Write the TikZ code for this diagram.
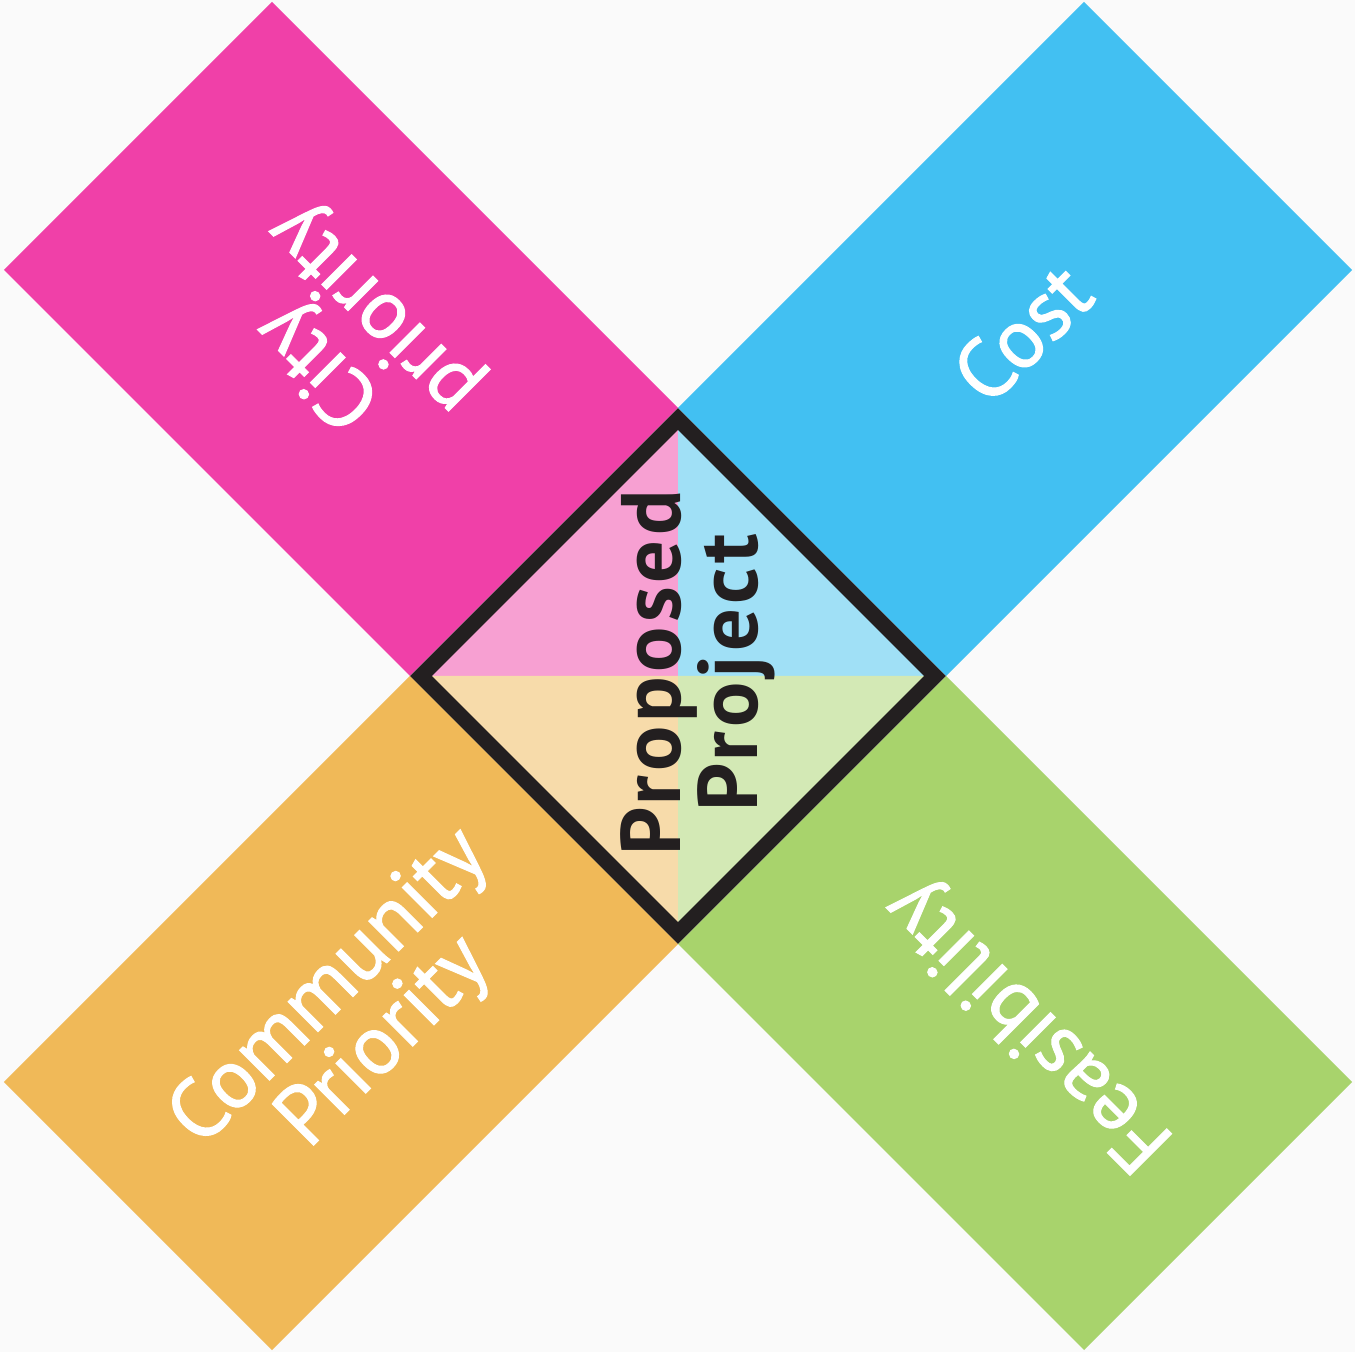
\documentclass[tikz,border=0pt]{standalone}
\usepackage{fontspec}
\setmainfont{PT Sans}
\newfontfamily\lblfont{PT Sans}[FakeBold=1.2]
\newfontfamily\midfont{PT Sans}[LetterSpace=5]
\definecolor{bg}{HTML}{FAFAFA}
\definecolor{cpink}{HTML}{F040A8}
\definecolor{cblue}{HTML}{42C0F2}
\definecolor{corange}{HTML}{F0B958}
\definecolor{cgreen}{HTML}{A8D36C}
\definecolor{lpink}{HTML}{F7A0D2}
\definecolor{lblue}{HTML}{A0E0F6}
\definecolor{lorange}{HTML}{F7DBAA}
\definecolor{lgreen}{HTML}{D3E9B5}
\definecolor{cdark}{HTML}{231F20}
\begin{document}
\begin{tikzpicture}[x=0.01cm,y=0.01cm,
  lbl/.style={text=white,align=center,inner sep=0pt,font=\lblfont\fontsize{24}{22}\selectfont},
  mid/.style={text=cdark,align=center,inner sep=0pt,font=\midfont\bfseries\fontsize{24}{22}\selectfont}]
  \useasboundingbox (-678,-676) rectangle (677,676);
  \fill[bg] (-678,-676) rectangle (677,676);

  % the four arms
  \foreach \sx/\sy/\col in {-1/1/cpink, 1/1/cblue, -1/-1/corange, 1/-1/cgreen}{
    \fill[\col] (\sx*268,0) -- (0,\sy*268) -- (\sx*406,\sy*674) -- (\sx*674,\sy*406) -- cycle;
  }

  % centre diamond
  \foreach \sx/\sy/\col in {-1/1/lpink, 1/1/lblue, -1/-1/lorange, 1/-1/lgreen}{
    \fill[\col] (0,0) -- (\sx*257,0) -- (0,\sy*257) -- cycle;
  }
  \draw[cdark,line width=4.4pt,line join=miter] (0,257) -- (257,0) -- (0,-257) -- (-257,0) -- cycle;

  \node[lbl,rotate=135] (city) at (-330,340) {City\\priority};
  \node[lbl,rotate=45] (cost) at (344,343) {Cost};
  \node[lbl,rotate=45] (community) at (-320,-340) {Community\\Priority};
  \node[lbl,rotate=135] (feasibility) at (353,-347) {Feasibility};
  \node[mid,rotate=90] (project) at (20,3) {Proposed\\Project};
\end{tikzpicture}
\end{document}
